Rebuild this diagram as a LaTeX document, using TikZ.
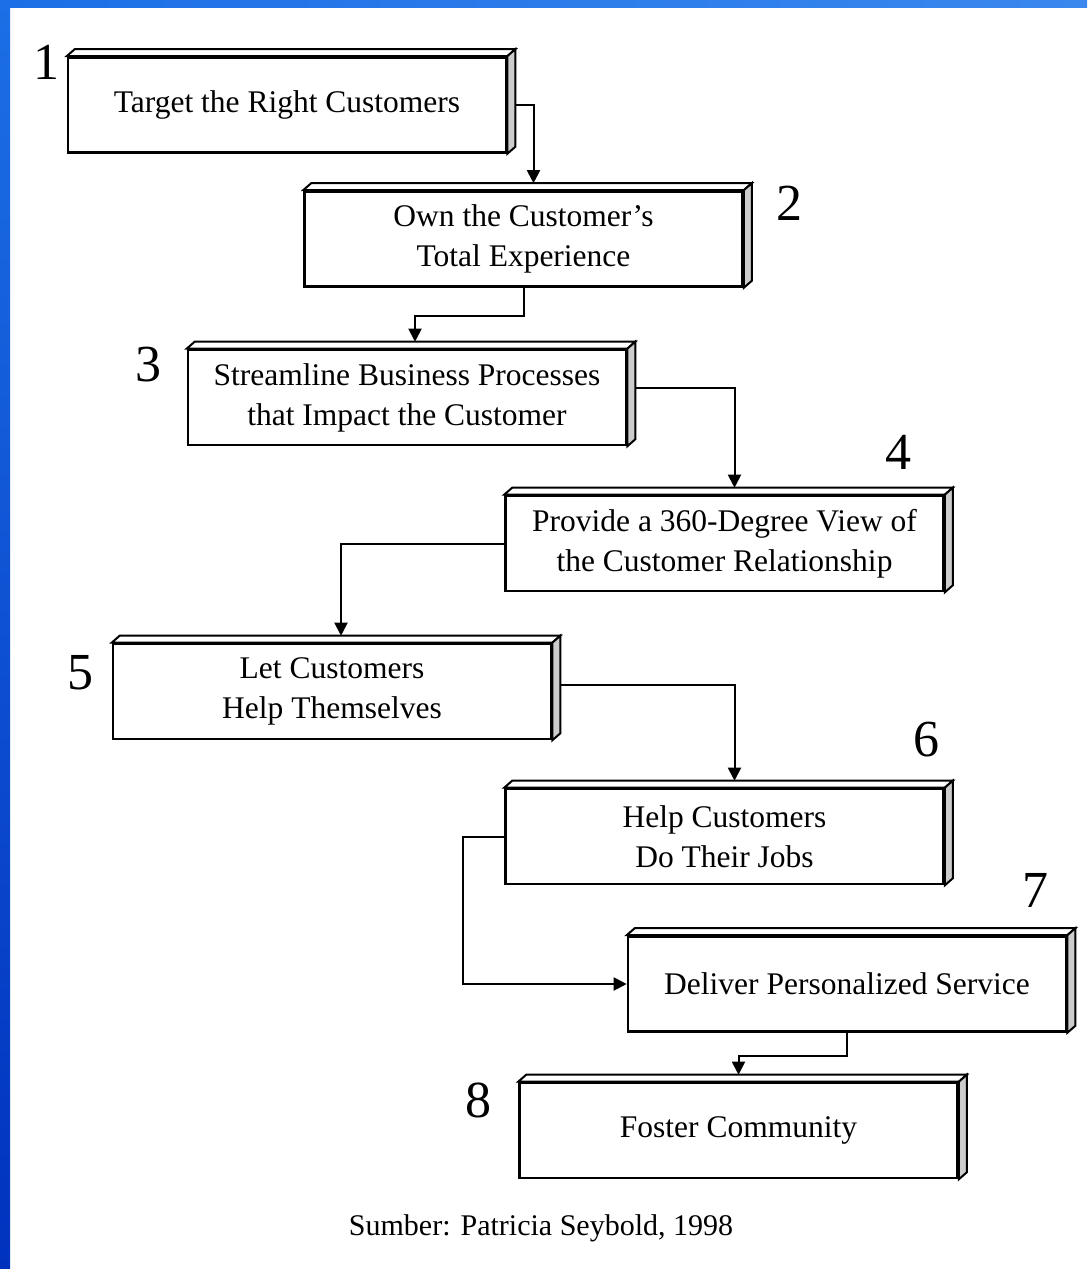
\documentclass[tikz,border=0pt]{standalone}
\usepackage{fontspec}
\setmainfont{Liberation Serif}
\usetikzlibrary{arrows.meta}
\definecolor{frametop}{HTML}{1C6FE6}
\definecolor{framebot}{HTML}{0032BE}
\definecolor{frameright}{HTML}{3A88EE}

\begin{document}
\begin{tikzpicture}
	[x=1pt,y=-1pt,
	block/.style={rectangle,draw=black,line width=2.6pt,fill=white,
minimum width=438pt,minimum height=95pt,inner sep=0pt,align=center,
font=\fontsize{31.5}{40}\selectfont},
	num/.style={inner sep=0pt,font=\fontsize{52}{52}\selectfont},
	side/.style={line width=2pt,fill=gray!40},
	conn/.style={line width=2pt,-{Triangle[width=13pt,length=13pt]}}]
	\useasboundingbox[fill=white] (0,0) rectangle (1087,1269);
	\shade[top color=frametop,bottom color=framebot] (0,0) rectangle (10,1269);
	\shade[left color=frametop,right color=frameright] (0,0) rectangle (1087,7);
	% steps
	\node at (287, 105) (b1) [block] {Target the Right Customers};
	\node at (523.5, 239) (b2) [block] {Own the Customer's\\Total Experience};
	\node at (407, 397.5) (b3) [block] {Streamline Business Processes\\that Impact the Customer};
	\node at (724.5, 543.5) (b4) [block] {Provide a 360-Degree View of\\the Customer Relationship};
	\node at (332, 691.5) (b5) [block] {Let Customers\\Help Themselves};
	\node at (724.5, 836.5) (b6) [block] {Help Customers\\Do Their Jobs};
	\node at (847, 984) (b7) [block] {Deliver Personalized Service};
	\node at (738.5, 1130.5) (b8) [block] {Foster Community};
	\foreach \i in {1,...,8}{
		\draw[side,fill=white] (b\i.north west) -- ++(8,-7) -- ([shift={(8,-7)}]b\i.north east) -- (b\i.north east) -- cycle;
		\draw[side] (b\i.north east) -- ++(8,-7) -- ([shift={(8,-7)}]b\i.south east) -- (b\i.south east) -- cycle;
	}
	% numbers
	\node at (47, 62) (n1) [num] {1};
	\node at (789, 203) (n2) [num] {2};
	\node at (148, 365) (n3) [num] {3};
	\node at (898, 452) (n4) [num] {4};
	\node at (80, 673) (n5) [num] {5};
	\node at (926, 740) (n6) [num] {6};
	\node at (1035, 890) (n7) [num] {7};
	\node at (478, 1100) (n8) [num] {8};
	% flow
	\draw[conn] ([xshift=8pt]b1.east) -| ([xshift=10pt,yshift=7pt]b2.north);
	\draw[conn] (b2.south) -- ++(0,28) -| ([xshift=8pt,yshift=7pt]b3.north);
	\draw[conn] ([xshift=8pt,yshift=10pt]b3.east) -| ([xshift=10pt,yshift=7pt]b4.north);
	\draw[conn] (b4.west) -| ([xshift=9pt,yshift=7pt]b5.north);
	\draw[conn] ([xshift=8pt,yshift=7pt]b5.east) -| ([xshift=10pt,yshift=7pt]b6.north);
	\draw[conn] (b6.west) -- ++(-41,0) |- (b7.west);
	\draw[conn] (b7.south) -- ++(0,23) -| ([yshift=7pt]b8.north);
	\node at (541, 1228) (src) [font=\fontsize{30}{30}\selectfont] {Sumber: Patricia Seybold, 1998};
\end{tikzpicture}
\end{document}
